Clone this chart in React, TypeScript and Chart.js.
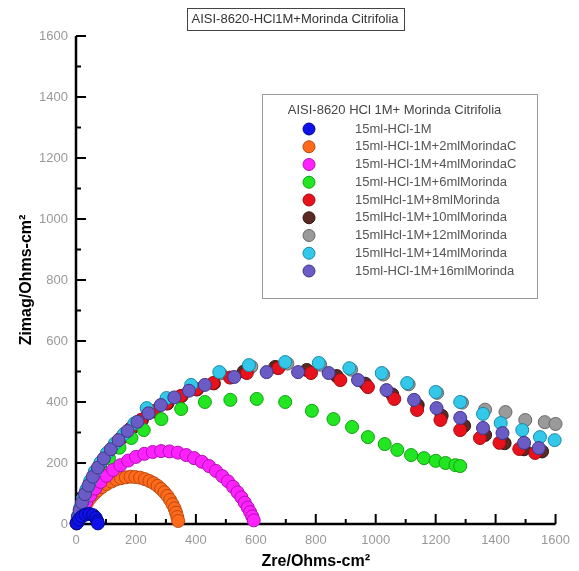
import React, { useEffect, useRef } from 'react';
import { Chart, registerables } from 'chart.js';

Chart.register(...registerables);

const chartTitle = 'AISI-8620-HCl1M+Morinda Citrifolia';
const legendTitle = 'AISI-8620 HCl 1M+ Morinda Citrifolia';
const xAxisTitle = 'Zre/Ohms-cm²';
const yAxisTitle = 'Zimag/Ohms-cm²';
const axisMin = 0;
const axisMax = 1600;
const majorStep = 200;
const minorStep = 100;

const seriesLabels = [
  '15ml-HCl-1M',
  '15ml-HCl-1M+2mlMorindaC',
  '15ml-HCl-1M+4mlMorindaC',
  '15ml-HCl-1M+6mlMorinda',
  '15mlHcl-1M+8mlMorinda',
  '15mlHcl-1M+10mlMorinda',
  '15mlHcl-1M+12mlMorinda',
  '15mlHcl-1M+14mlMorinda',
  '15ml-HCl-1M+16mlMorinda',
];
const seriesColors = ['#1010e8', '#ff6a1a', '#ff22ff', '#22e622', '#e8121c', '#5a2a22', '#9a9a9a', '#33c8ea', '#6a5cc4'];
const seriesBorders = ['#000a90', '#b84a10', '#b010b0', '#12a012', '#a00a10', '#301410', '#666666', '#1a8aa8', '#40348a'];
// drawing order: higher = drawn earlier (below)
const seriesOrder = [0, 4, 3, 6, 7, 8, 9, 2, 1];

const hcl1mX = [3, 10, 20, 32, 45, 57, 66, 71, 73];
const hcl1mY = [3, 15, 25, 31, 33, 29, 20, 9, 2];

const m2X = [5, 10, 18, 27, 37, 48, 60, 73, 87, 102, 118, 134, 150, 166, 182, 198, 214, 230, 245, 259, 272, 284, 295, 305, 314, 322, 329, 334, 338, 341];
const m2Y = [5, 20, 38, 55, 70, 85, 98, 110, 121, 131, 139, 146, 150, 153, 155, 154, 152, 147, 141, 134, 125, 115, 104, 92, 79, 65, 51, 37, 23, 10];

const m4X = [5, 12, 22, 34, 48, 64, 82, 102, 124, 148, 174, 200, 228, 256, 284, 312, 340, 368, 394, 420, 444, 467, 488, 507, 524, 539, 552, 563, 573, 581, 588, 593];
const m4Y = [10, 30, 50, 72, 94, 116, 138, 158, 177, 193, 208, 220, 230, 236, 239, 238, 234, 226, 216, 204, 190, 174, 157, 140, 122, 104, 87, 70, 54, 39, 25, 12];

const m6X = [3, 10, 20, 35, 55, 80, 110, 145, 185, 226, 285, 351, 430, 515, 603, 698, 787, 859, 921, 974, 1030, 1072, 1118, 1161, 1200, 1233, 1266, 1282];
const m6Y = [4, 30, 60, 95, 135, 175, 215, 250, 282, 308, 344, 377, 400, 407, 410, 400, 371, 344, 318, 285, 262, 243, 226, 216, 207, 200, 193, 190];

const m8X = [2, 7, 14, 22, 33, 46, 61, 79, 100, 124, 151, 182, 218, 258, 302, 350, 402, 458, 514, 570, 675, 784, 882, 974, 1062, 1138, 1216, 1282, 1348, 1413, 1479, 1532];
const m8Y = [3, 24, 48, 75, 104, 133, 162, 192, 222, 252, 283, 313, 342, 370, 396, 420, 442, 462, 480, 495, 511, 495, 472, 449, 410, 374, 341, 308, 282, 266, 246, 233];

const m10X = [2, 7, 14, 23, 34, 47, 62, 80, 101, 125, 152, 184, 220, 260, 305, 352, 404, 460, 560, 665, 770, 870, 965, 1055, 1140, 1220, 1295, 1365, 1430, 1495, 1555];
const m10Y = [2, 23, 47, 74, 103, 132, 161, 191, 221, 251, 282, 312, 341, 369, 395, 419, 441, 461, 500, 515, 505, 485, 460, 425, 390, 355, 322, 292, 265, 245, 238];

const m12X = [3, 8, 15, 24, 35, 48, 63, 82, 104, 130, 160, 195, 238, 304, 386, 482, 585, 705, 815, 918, 1025, 1110, 1205, 1288, 1365, 1433, 1499, 1564, 1600];
const m12Y = [4, 27, 54, 83, 112, 141, 171, 201, 232, 263, 294, 326, 376, 410, 452, 494, 516, 526, 522, 506, 490, 458, 430, 398, 375, 367, 341, 334, 328];

const m14X = [3, 8, 15, 24, 35, 48, 63, 82, 104, 130, 160, 195, 236, 302, 384, 478, 577, 698, 810, 912, 1020, 1105, 1200, 1282, 1358, 1417, 1489, 1548, 1597];
const m14Y = [5, 28, 55, 84, 113, 142, 172, 202, 233, 264, 295, 330, 380, 413, 456, 498, 521, 531, 528, 511, 495, 462, 433, 400, 361, 331, 308, 285, 275];

const m16X = [2, 6, 12, 20, 30, 42, 56, 73, 93, 116, 142, 172, 205, 242, 283, 328, 377, 430, 528, 636, 741, 843, 941, 1036, 1128, 1203, 1282, 1358, 1423, 1495, 1544];
const m16Y = [2, 22, 45, 70, 98, 126, 155, 185, 215, 245, 275, 305, 335, 363, 390, 415, 437, 456, 482, 498, 498, 495, 472, 439, 407, 380, 348, 315, 298, 266, 249];

const seriesX = [hcl1mX, m2X, m4X, m6X, m8X, m10X, m12X, m14X, m16X];
const seriesY = [hcl1mY, m2Y, m4Y, m6Y, m8Y, m10Y, m12Y, m14Y, m16Y];

const FONT = '"Liberation Sans", Arial, sans-serif';

const axesPlugin = {
  id: 'customAxes',
  beforeDatasetsDraw(chart: any) {
    const { ctx, scales } = chart;
    const xs = scales.x;
    const ys = scales.y;
    const x0 = xs.getPixelForValue(axisMin);
    const y0 = ys.getPixelForValue(axisMin);
    ctx.save();
    ctx.strokeStyle = '#000';
    ctx.lineWidth = 2.5;
    ctx.beginPath();
    ctx.moveTo(x0, ys.getPixelForValue(axisMax));
    ctx.lineTo(x0, y0);
    ctx.lineTo(xs.getPixelForValue(axisMax), y0);
    ctx.stroke();
    ctx.lineWidth = 2;
    for (let v = axisMin; v <= axisMax; v += minorStep) {
      const major = v % majorStep === 0;
      const len = major ? 10 : 5;
      const py = ys.getPixelForValue(v);
      ctx.beginPath();
      ctx.moveTo(x0, py);
      ctx.lineTo(x0 + len, py);
      ctx.stroke();
      const px = xs.getPixelForValue(v);
      ctx.beginPath();
      ctx.moveTo(px, y0);
      ctx.lineTo(px, y0 - len);
      ctx.stroke();
    }
    ctx.restore();
  },
};

const decorPlugin = {
  id: 'decor',
  afterDraw(chart: any) {
    const { ctx, chartArea } = chart;
    ctx.save();
    // chart title box
    ctx.font = `13px ${FONT}`;
    ctx.fillStyle = '#333';
    ctx.textAlign = 'center';
    ctx.textBaseline = 'middle';
    const tw = ctx.measureText(chartTitle).width;
    const cx = 295;
    ctx.fillText(chartTitle, cx, 19);
    ctx.strokeStyle = '#444';
    ctx.lineWidth = 1;
    ctx.strokeRect(Math.round(cx - tw / 2 - 5) + 0.5, 8.5, Math.round(tw + 10), 22);

    // legend
    const lx = chartArea.left + 186;
    const ly = chartArea.top + 58;
    const lw = 275;
    const lh = 204;
    ctx.fillStyle = '#fff';
    ctx.fillRect(lx, ly, lw, lh);
    ctx.strokeStyle = '#999';
    ctx.strokeRect(lx + 0.5, ly + 0.5, lw, lh);
    ctx.fillStyle = '#444';
    ctx.font = `13px ${FONT}`;
    ctx.textAlign = 'center';
    ctx.fillText(legendTitle, lx + lw / 2 - 5, ly + 16);
    ctx.textAlign = 'left';
    seriesLabels.forEach((lab, i) => {
      const ry = ly + 35 + i * 17.75;
      ctx.beginPath();
      ctx.arc(lx + 47, ry, 6, 0, Math.PI * 2);
      ctx.fillStyle = seriesColors[i];
      ctx.fill();
      ctx.strokeStyle = seriesBorders[i];
      ctx.lineWidth = 1;
      ctx.stroke();
      ctx.fillStyle = '#555';
      ctx.fillText(lab, lx + 93, ry);
    });
    ctx.restore();
  },
};

export default function App() {
  const ref = useRef<HTMLCanvasElement>(null);
  useEffect(() => {
    if (!ref.current) return;
    const datasets = seriesLabels.map((label, i) => ({
      label,
      data: seriesX[i].map((x, j) => ({ x, y: seriesY[i][j] })),
      backgroundColor: seriesColors[i],
      borderColor: seriesBorders[i],
      borderWidth: 1,
      pointRadius: 6.5,
      pointHoverRadius: 6.5,
      showLine: false,
      order: seriesOrder[i],
      clip: false as any,
    }));
    const tickFont = { size: 13, family: FONT };
    const chart = new Chart(ref.current, {
      type: 'scatter',
      data: { datasets },
      options: {
        animation: false,
        responsive: false,
        devicePixelRatio: 1,
        layout: { padding: { left: 0, top: 36, right: 14, bottom: 0 } },
        plugins: {
          legend: { display: false },
          title: { display: false },
          tooltip: { enabled: false },
        },
        scales: {
          x: {
            type: 'linear',
            min: axisMin,
            max: axisMax,
            grid: { display: false, drawTicks: false },
            border: { display: false },
            ticks: { stepSize: majorStep, color: '#999', font: tickFont, padding: 9, maxRotation: 0, callback: (v: any) => String(v) },
            title: { display: true, text: xAxisTitle, color: '#000', font: { size: 16, weight: 'bold', family: FONT }, padding: { top: 0, bottom: 0 } },
            afterFit: (s: any) => { s.height = 47; },
          },
          y: {
            type: 'linear',
            min: axisMin,
            max: axisMax,
            grid: { display: false, drawTicks: false },
            border: { display: false },
            ticks: { stepSize: majorStep, color: '#999', font: tickFont, padding: 8, callback: (v: any) => String(v) },
            title: { display: true, text: yAxisTitle, color: '#000', font: { size: 16, weight: 'bold', family: FONT }, padding: { top: 17, bottom: 0 } },
            afterFit: (s: any) => { s.width = 76; },
          },
        },
      },
      plugins: [axesPlugin, decorPlugin],
    });
    return () => chart.destroy();
  }, []);
  return (
    <div style={{ position: 'absolute', left: 0, top: 0, width: 579, height: 571, background: '#fff' }}>
      <canvas ref={ref} width={579} height={571} style={{ width: 579, height: 571 }} />
    </div>
  );
}
